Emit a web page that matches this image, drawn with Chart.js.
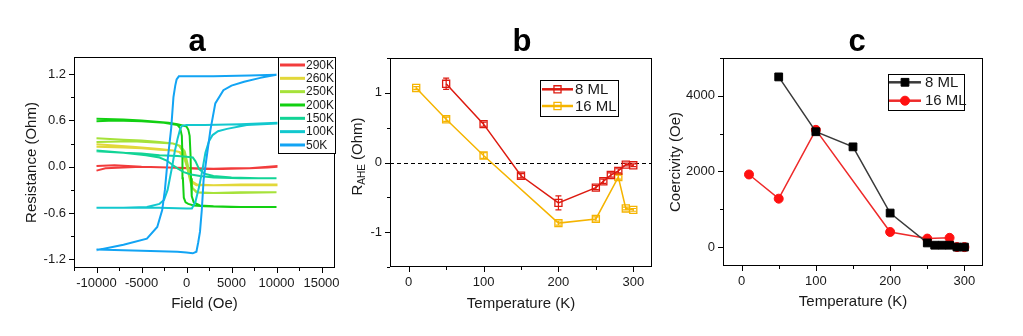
<!DOCTYPE html>
<html lang="en">
<head>
  <meta charset="UTF-8" />
  <title>AHE / coercivity panels</title>
  <script src="https://cdn.jsdelivr.net/npm/chart.js"></script>
  <style>
    html, body { margin: 0; padding: 0; background: #fff; }
    body { width: 1023px; height: 336px; position: relative; overflow: hidden; }
    .panel { position: absolute; top: 0; height: 336px; }
    #pa { left: 0; width: 341px; }
    #pb { left: 341px; width: 320px; }
    #pc { left: 661px; width: 362px; }
  </style>
</head>
<body>
  <div class="panel" id="pa"><canvas id="chartA"></canvas></div>
  <div class="panel" id="pb"><canvas id="chartB"></canvas></div>
  <div class="panel" id="pc"><canvas id="chartC"></canvas></div>

  <script>
    // ---- panel a: R vs field loops (sweep up, then sweep down) ----
    const loopLabels = ['290K', '260K', '250K', '200K', '150K', '100K', '50K'];
    const loopColors = ['#F23C3C', '#E2D83A', '#A6E23A', '#12D012', '#12D496', '#12C8CE', '#12A4F4'];

    const field290 = [-10000, -9000, -7000, -5000, -2000, 0, 2000, 5000, 7000, 9000, 10000,
                      10000, 7000, 4000, 1000, -2000, -5000, -8000, -10000];
    const res290   = [-0.05, -0.02, -0.01, 0.0, -0.01, -0.02, -0.03, -0.02, -0.02, -0.01, 0.0,
                      0.01, -0.02, -0.03, -0.02, -0.01, 0.0, 0.02, 0.01];

    const field260 = [-10000, -7000, -5000, -3000, -1500, -700, -200, 100, 400, 700, 1100, 3000, 6000, 10000,
                      10000, 6000, 3000, 1200, 600, 300, 0, -300, -800, -1500, -3000, -6000, -10000];
    const res260   = [0.26, 0.25, 0.24, 0.22, 0.21, 0.19, 0.13, 0.02, -0.12, -0.21, -0.24, -0.24, -0.23, -0.23,
                      -0.24, -0.24, -0.24, -0.23, -0.19, -0.10, 0.02, 0.12, 0.19, 0.21, 0.23, 0.26, 0.29];

    const field250 = [-10000, -7000, -5000, -3000, -1500, -700, -200, 100, 400, 700, 1100, 2000, 5000, 10000,
                      10000, 6000, 3000, 1200, 600, 300, 0, -300, -800, -1500, -3000, -6000, -10000];
    const res250   = [0.37, 0.35, 0.34, 0.32, 0.30, 0.27, 0.20, 0.05, -0.15, -0.28, -0.33, -0.34, -0.34, -0.33,
                      -0.33, -0.33, -0.34, -0.33, -0.27, -0.13, 0.03, 0.18, 0.27, 0.30, 0.31, 0.33, 0.32];

    const field200 = [-10000, -7000, -5000, -3000, -2000, -1000, -300, 0, 200, 350, 450, 500, 580, 800, 1500, 3000, 6000, 10000,
                      10000, 5000, 2000, 800, 200, -100, -300, -400, -450, -520, -700, -1000, -1500, -2500, -5000, -8000, -10000];
    const res200   = [0.62, 0.61, 0.60, 0.58, 0.57, 0.55, 0.53, 0.52, 0.48, 0.40, 0.15, -0.15, -0.38, -0.46, -0.50, -0.51, -0.52, -0.52,
                      -0.52, -0.52, -0.51, -0.50, -0.48, -0.46, -0.40, -0.15, 0.15, 0.40, 0.50, 0.54, 0.55, 0.57, 0.59, 0.60, 0.59];

    const field150 = [-10000, -7000, -5000, -3000, -1000, 0, 700, 1000, 1400, 2000, 3000, 5000, 8000, 10000,
                      10000, 6000, 3000, 1500, 500, -300, -1000, -1500, -2200, -3000, -4500, -7000, -10000];
    const res150   = [0.20, 0.18, 0.17, 0.15, 0.14, 0.13, 0.12, 0.07, -0.03, -0.09, -0.12, -0.14, -0.15, -0.15,
                      -0.15, -0.15, -0.14, -0.12, -0.10, -0.07, -0.02, 0.02, 0.08, 0.12, 0.15, 0.18, 0.21];

    const field100 = [-10000, -6000, -3000, 0, 600, 1000, 1400, 1750, 2100, 2500, 2900, 3500, 4500, 6700, 10000,
                      10000, 6000, 2000, 0, -500, -700, -1000, -1300, -1600, -2100, -2500, -3000, -4400, -7000, -10000];
    const res100   = [-0.53, -0.53, -0.53, -0.54, -0.54, -0.45, -0.26, -0.05, 0.18, 0.33, 0.41, 0.46, 0.49, 0.54, 0.56,
                      0.57, 0.55, 0.54, 0.54, 0.53, 0.49, 0.36, 0.20, 0.0, -0.30, -0.43, -0.48, -0.52, -0.53, -0.53];

    const field50 = [-10000, -7000, -4000, -1000, 0, 700, 1100, 1300, 1500, 1700, 1900, 2200, 2650, 3200, 4100, 5000, 6400, 8200, 10000,
                     10000, 7000, 3000, 0, -850, -1100, -1250, -1450, -1700, -2100, -2400, -2700, -3250, -4400, -7000, -10000];
    const res50   = [-1.07, -1.08, -1.09, -1.10, -1.11, -1.12, -1.10, -0.98, -0.84, -0.56, -0.17, 0.09, 0.47, 0.82, 0.99, 1.05, 1.10, 1.15, 1.19,
                     1.19, 1.18, 1.17, 1.17, 1.17, 1.13, 1.05, 0.90, 0.50, 0.08, -0.30, -0.56, -0.78, -0.93, -1.01, -1.08];

    const loopFields = [field290, field260, field250, field200, field150, field100, field50];
    const loopRes    = [res290, res260, res250, res200, res150, res100, res50];
    const fieldTicks = [-10000, -5000, 0, 5000, 10000, 15000];
    const resTicks   = [-1.2, -0.6, 0, 0.6, 1.2];

    // ---- panel b: R_AHE vs temperature ----
    const tempB8   = [50, 100, 150, 200, 250, 260, 270, 280, 290, 300];
    const rahe8    = [1.13, 0.55, -0.19, -0.58, -0.36, -0.27, -0.18, -0.12, -0.03, -0.04];
    const rahe8Err = [0.08, 0.03, 0.03, 0.10, 0.03, 0.03, 0.03, 0.03, 0.02, 0.02];
    const tempB16   = [10, 50, 100, 200, 250, 280, 290, 300];
    const rahe16    = [1.07, 0.62, 0.10, -0.87, -0.81, -0.21, -0.66, -0.68];
    const rahe16Err = [0.02, 0.03, 0.04, 0.03, 0.03, 0.03, 0.02, 0.02];
    const tempTicks = [0, 100, 200, 300];
    const raheTicks = [-1, 0, 1];

    // ---- panel c: coercivity vs temperature ----
    const tempC8  = [50, 100, 150, 200, 250, 260, 270, 280, 290, 300];
    const coer8   = [4500, 3050, 2650, 900, 110, 50, 50, 50, 0, 0];
    const tempC16 = [10, 50, 100, 200, 250, 280, 290, 300];
    const coer16  = [1920, 1280, 3100, 400, 225, 245, 0, 0];
    const coerTicks = [0, 2000, 4000];

    const FONT = 'Arial, "Liberation Sans", Helvetica, sans-serif';
    const INK = '#1a1a1a';
    const pts = (xs, ys) => xs.map((x, i) => ({ x: x, y: ys[i] }));

    // decorations: frame, ticks, letter, legend, y title, zero line, error bars
    const panelDecor = {
      id: 'panelDecor',
      beforeDatasetsDraw(chart, args, o) {
        if (!o.zeroLine) return;
        const { ctx, chartArea: a, scales: { y } } = chart;
        const py = Math.round(y.getPixelForValue(0)) + 0.5;
        ctx.save();
        ctx.strokeStyle = '#000'; ctx.lineWidth = 1; ctx.setLineDash([4, 3]);
        ctx.beginPath(); ctx.moveTo(a.left, py); ctx.lineTo(a.right, py); ctx.stroke();
        ctx.restore();
      },
      afterDatasetsDraw(chart, args, o) {
        if (!o.errors) return;
        const { ctx, scales: { x, y } } = chart;
        ctx.save();
        chart.data.datasets.forEach((ds, di) => {
          const errs = o.errors[di];
          ctx.strokeStyle = ds.borderColor; ctx.lineWidth = 1.2;
          ds.data.forEach((p, i) => {
            const px = x.getPixelForValue(p.x);
            const y0 = y.getPixelForValue(p.y - errs[i]);
            const y1 = y.getPixelForValue(p.y + errs[i]);
            ctx.beginPath();
            ctx.moveTo(px, y0); ctx.lineTo(px, y1);
            ctx.moveTo(px - 3, y0); ctx.lineTo(px + 3, y0);
            ctx.moveTo(px - 3, y1); ctx.lineTo(px + 3, y1);
            ctx.stroke();
          });
        });
        ctx.restore();
      },
      afterDraw(chart, args, o) {
        const { ctx, chartArea: a, scales: { x, y } } = chart;
        ctx.save();
        // frame
        ctx.strokeStyle = '#000'; ctx.lineWidth = 1;
        ctx.strokeRect(a.left + 0.5, a.top + 0.5, a.width - 1, a.height - 1);
        // major + minor ticks
        const tickRun = (sc, step, majors, draw) => {
          const start = Math.ceil(sc.min / step - 1e-9);
          for (let k = start; k * step <= sc.max + 1e-9; k++) {
            const v = k * step;
            const major = majors.some(m => Math.abs(m - v) < step * 1e-6);
            draw(sc.getPixelForValue(v), major ? 5 : 3);
          }
        };
        ctx.beginPath();
        tickRun(x, o.minorX, o.majorX, (p, l) => {
          const px = Math.round(p) + 0.5;
          ctx.moveTo(px, a.bottom); ctx.lineTo(px, a.bottom + l);
        });
        tickRun(y, o.minorY, o.majorY, (p, l) => {
          const py = Math.round(p) + 0.5;
          ctx.moveTo(a.left, py); ctx.lineTo(a.left - l, py);
        });
        ctx.stroke();
        // panel letter
        ctx.fillStyle = '#000';
        ctx.font = 'bold 31px ' + FONT;
        ctx.textAlign = 'center'; ctx.textBaseline = 'alphabetic';
        ctx.fillText(o.letter, o.letterX, 51);
        // y title (rotated, optional subscript part)
        ctx.save();
        const cy = (a.top + a.bottom) / 2 + (o.yTitleShift || 0);
        ctx.translate(o.yTitleX, cy);
        ctx.rotate(-Math.PI / 2);
        ctx.fillStyle = INK; ctx.textBaseline = 'middle'; ctx.textAlign = 'left';
        let total = 0;
        o.yTitle.forEach(part => {
          ctx.font = (part.sub ? 10 : 15) + 'px ' + FONT;
          total += ctx.measureText(part.t).width;
        });
        let cx = -total / 2;
        o.yTitle.forEach(part => {
          ctx.font = (part.sub ? 10 : 15) + 'px ' + FONT;
          ctx.fillText(part.t, cx, part.sub ? 4 : 0);
          cx += ctx.measureText(part.t).width;
        });
        ctx.restore();
        // legend
        const L = o.legend;
        ctx.fillStyle = '#fff';
        ctx.fillRect(L.left, L.top, L.width, L.height);
        ctx.strokeStyle = '#000'; ctx.lineWidth = 1;
        ctx.strokeRect(Math.round(L.left) + 0.5, Math.round(L.top) + 0.5, Math.round(L.width), Math.round(L.height));
        chart.data.datasets.forEach((ds, i) => {
          const ry = L.top + L.row0 + i * L.rowGap;
          ctx.strokeStyle = ds.borderColor; ctx.lineWidth = L.lineWidth;
          ctx.beginPath(); ctx.moveTo(L.line0, ry); ctx.lineTo(L.line1, ry); ctx.stroke();
          if (ds.pointRadius > 0) {
            ctx.fillStyle = ds.pointBackgroundColor;
            ctx.strokeStyle = ds.pointBorderColor; ctx.lineWidth = ds.pointBorderWidth;
            Chart.helpers.drawPoint(ctx, { pointStyle: ds.pointStyle, rotation: 0, radius: ds.pointRadius, borderWidth: ds.pointBorderWidth },
              (L.line0 + L.line1) / 2, ry);
          }
          ctx.fillStyle = INK; ctx.font = L.fontSize + 'px ' + FONT;
          ctx.textAlign = 'left'; ctx.textBaseline = 'middle';
          ctx.fillText(ds.label, L.textX, ry + 0.5);
        });
        ctx.restore();
      }
    };
    Chart.register(panelDecor);

    const fixX = h => s => { s.height = h; s.paddingLeft = 0; s.paddingRight = 0; };
    const fixY = w => s => { s.width = w; s.paddingTop = 0; s.paddingBottom = 0; };
    const setTicks = list => s => { s.ticks = list.map(v => ({ value: v })); };

    function axis(min, max, tickList, fmt, fit, extra) {
      return Object.assign({
        type: 'linear', min: min, max: max,
        grid: { display: false, drawTicks: false },
        border: { display: false },
        afterBuildTicks: setTicks(tickList),
        afterFit: fit,
        ticks: { color: INK, font: { family: FONT, size: 13 }, padding: 8, callback: fmt, maxRotation: 0, autoSkip: false }
      }, extra || {});
    }
    const xTitle = (text, padBottom) => ({
      display: true, text: text, color: INK,
      font: { family: FONT, size: 15 }, padding: { top: 0, bottom: padBottom }
    });

    function baseOptions(padding, scales, decor) {
      return {
        responsive: true, maintainAspectRatio: false, animation: false,
        layout: { padding: padding },
        scales: scales,
        plugins: { legend: { display: false }, tooltip: { enabled: false }, panelDecor: decor }
      };
    }

    // panel a
    new Chart(document.getElementById('chartA'), {
      type: 'scatter',
      data: {
        datasets: loopLabels.map((lab, i) => ({
          label: lab,
          data: pts(loopFields[i], loopRes[i]),
          showLine: true, borderColor: loopColors[i], borderWidth: 2,
          pointRadius: 0, tension: 0, order: loopLabels.length - i
        }))
      },
      options: baseOptions({ left: 0, top: 57, right: 6, bottom: 0 }, {
        x: axis(-12500, 16500, fieldTicks, v => String(v), fixX(68),
          { title: xTitle('Field (Oe)', 23) }),
        y: axis(-1.31, 1.42, resTicks, v => v.toFixed(1), fixY(74))
      }, {
        letter: 'a', letterX: 197,
        majorX: fieldTicks, minorX: 2500, majorY: resTicks, minorY: 0.3,
        yTitleX: 32, yTitle: [{ t: 'Resistance (Ohm)' }],
        legend: { left: 278, top: 57, width: 57, height: 96, row0: 8, rowGap: 13.33,
                  line0: 280, line1: 305, textX: 306, fontSize: 12, lineWidth: 3 }
      })
    });

    // panel b
    new Chart(document.getElementById('chartB'), {
      type: 'scatter',
      data: {
        datasets: [
          { label: '8 ML', data: pts(tempB8, rahe8), showLine: true,
            borderColor: '#DD1A10', borderWidth: 1.5, pointStyle: 'rect', pointRadius: 5,
            pointBorderColor: '#DD1A10', pointBackgroundColor: 'rgba(255,255,255,0)', pointBorderWidth: 1.3 },
          { label: '16 ML', data: pts(tempB16, rahe16), showLine: true,
            borderColor: '#F5B400', borderWidth: 1.5, pointStyle: 'rect', pointRadius: 5,
            pointBorderColor: '#F5B400', pointBackgroundColor: 'rgba(255,255,255,0)', pointBorderWidth: 1.3 }
        ]
      },
      options: baseOptions({ left: 0, top: 58, right: 9, bottom: 0 }, {
        x: axis(-25, 325, tempTicks, v => String(v), fixX(69),
          { title: xTitle('Temperature (K)', 23) }),
        y: axis(-1.5, 1.5, raheTicks, v => String(v), fixY(49))
      }, {
        letter: 'b', letterX: 181, zeroLine: true,
        errors: [rahe8Err, rahe16Err],
        majorX: tempTicks, minorX: 50, majorY: raheTicks, minorY: 0.5,
        yTitleX: 17, yTitleShift: -6, yTitle: [{ t: 'R' }, { t: 'AHE', sub: true }, { t: ' (Ohm)' }],
        legend: { left: 199, top: 80, width: 78, height: 36, row0: 9.3, rowGap: 16.7,
                  line0: 201, line1: 232, textX: 234, fontSize: 15, lineWidth: 2.5 }
      })
    });

    // panel c
    new Chart(document.getElementById('chartC'), {
      type: 'scatter',
      data: {
        datasets: [
          { label: '8 ML', data: pts(tempC8, coer8), showLine: true,
            borderColor: '#3a3a3a', borderWidth: 1.5, pointStyle: 'rect', pointRadius: 5.5,
            pointBorderColor: '#000', pointBackgroundColor: '#000', pointBorderWidth: 1 },
          { label: '16 ML', data: pts(tempC16, coer16), showLine: true,
            borderColor: '#EE2A2A', borderWidth: 1.5, pointStyle: 'circle', pointRadius: 4.5,
            pointBorderColor: '#FF1010', pointBackgroundColor: '#FF1010', pointBorderWidth: 1 }
        ]
      },
      options: baseOptions({ left: 0, top: 58, right: 40, bottom: 0 }, {
        x: axis(-25, 325, tempTicks, v => String(v), fixX(70),
          { title: xTitle('Temperature (K)', 25) }),
        y: axis(-500, 5000, coerTicks, v => String(v), fixY(62))
      }, {
        letter: 'c', letterX: 196,
        majorX: tempTicks, minorX: 50, majorY: coerTicks, minorY: 1000,
        yTitleX: 15, yTitle: [{ t: 'Coercivity (Oe)' }],
        legend: { left: 227, top: 74, width: 76, height: 36, row0: 8.3, rowGap: 18.4,
                  line0: 228, line1: 260, textX: 264, fontSize: 15, lineWidth: 2.5 }
      })
    });
  </script>
</body>
</html>
